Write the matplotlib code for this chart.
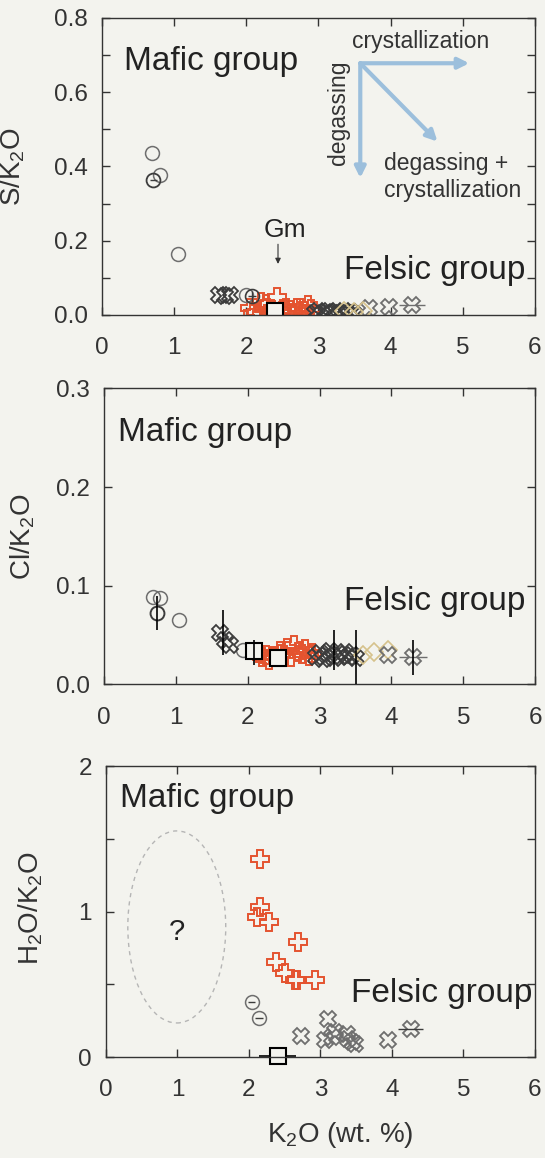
import numpy as np
import matplotlib.pyplot as plt
from matplotlib.patches import Ellipse

plt.rcParams['font.family'] = ['Liberation Sans', 'DejaVu Sans']
plt.rcParams['mathtext.default'] = 'regular'

PAPER = '#f3f3ee'
RED = '#e4532f'
DARK = '#3c3c3c'
GRAY = '#6e6e6e'
TAN = '#d6c28c'
BLUE = '#9cbfdc'

# ---- S/K2O panel ----
s_mafic_x = [0.69, 0.81, 1.05]
s_mafic_y = [0.437, 0.377, 0.164]
s_mafic_eb_x = [0.71]
s_mafic_eb_y = [0.364]
s_xdark_x = [1.62, 1.70, 1.78, 2.95, 3.00, 3.05, 3.10, 3.15, 3.20, 3.25, 3.30, 3.35, 3.40, 3.45, 3.50]
s_xdark_y = [0.055, 0.050, 0.055, 0.005, 0.010, 0.003, 0.008, 0.012, 0.004, 0.009, 0.006, 0.010, 0.005, 0.008, 0.003]
s_xgray_x = [3.70, 3.98, 4.30]
s_xgray_y = [0.018, 0.022, 0.027]
s_circ_x = [2.00]
s_circ_y = [0.055]
s_circp_x = [2.08]
s_circp_y = [0.050]
s_red_x = [2.05, 2.10, 2.15, 2.20, 2.25, 2.28, 2.32, 2.43, 2.50, 2.55, 2.60, 2.65, 2.70, 2.75, 2.80, 2.85, 2.90]
s_red_y = [0.020, 0.005, 0.009, 0.035, 0.015, 0.030, 0.000, 0.049, 0.010, 0.020, 0.013, 0.005, 0.020, 0.019, 0.010, 0.027, 0.015]
s_dia_x = [3.35, 3.50, 3.62]
s_dia_y = [0.010, 0.008, 0.012]
s_gm_x = [2.40]
s_gm_y = [0.012]

# ---- Cl/K2O panel ----
cl_mafic_x = [0.68, 0.78, 1.04]
cl_mafic_y = [0.089, 0.088, 0.065]
cl_mafic_eb_x = [0.73]
cl_mafic_eb_y = [0.072]
cl_xdark_x = [1.62, 1.68, 1.75, 2.95, 3.00, 3.05, 3.10, 3.15, 3.20, 3.25, 3.30, 3.35, 3.40, 3.45, 3.50]
cl_xdark_y = [0.052, 0.045, 0.040, 0.028, 0.032, 0.026, 0.030, 0.034, 0.027, 0.031, 0.029, 0.033, 0.028, 0.030, 0.027]
cl_xgray_x = [3.95, 4.30]
cl_xgray_y = [0.030, 0.028]
cl_circ_x = [1.93]
cl_circ_y = [0.035]
cl_red_x = [2.15, 2.20, 2.25, 2.30, 2.35, 2.45, 2.50, 2.55, 2.60, 2.65, 2.70, 2.75, 2.80, 2.85, 2.90]
cl_red_y = [0.032, 0.028, 0.030, 0.025, 0.029, 0.034, 0.030, 0.037, 0.028, 0.040, 0.033, 0.031, 0.036, 0.029, 0.032]
cl_dia_x = [3.60, 3.75, 3.95]
cl_dia_y = [0.030, 0.033, 0.035]
cl_sq_x = [2.08, 2.42]
cl_sq_y = [0.034, 0.027]
cl_eb_x = [0.73, 1.66, 2.08, 3.20, 3.50, 4.30]
cl_eb_lo = [0.055, 0.030, 0.020, 0.015, 0.000, 0.010]
cl_eb_hi = [0.090, 0.075, 0.045, 0.055, 0.055, 0.045]

# ---- H2O/K2O panel ----
h_red_x = [2.15, 2.15, 2.11, 2.28, 2.68, 2.38, 2.51, 2.65, 2.67, 2.92]
h_red_y = [1.36, 1.03, 0.96, 0.93, 0.79, 0.65, 0.58, 0.53, 0.53, 0.53]
h_circ_x = [2.04, 2.14]
h_circ_y = [0.38, 0.27]
h_x_x = [2.73, 3.11, 3.06, 3.20, 3.16, 3.37, 3.44, 3.48, 3.39, 3.94, 4.26]
h_x_y = [0.145, 0.26, 0.115, 0.17, 0.14, 0.16, 0.10, 0.09, 0.126, 0.115, 0.195]
h_gm_x = [2.40]
h_gm_y = [0.01]


def style_axes(ax, ymax, major, minor, fmt):
    ax.set_facecolor(PAPER)
    ax.set_xlim(0, 6)
    ax.set_ylim(0, ymax)
    ax.set_xticks(np.arange(0, 7, 1))
    ax.set_yticks(np.arange(0, ymax + 1e-9, major))
    ax.set_yticklabels([fmt.format(v) for v in np.arange(0, ymax + 1e-9, major)])
    if minor:
        ax.set_yticks(np.arange(0, ymax + 1e-9, minor), minor=True)
    ax.tick_params(which='both', direction='in', top=True, right=True,
                   length=6, width=1, color='#333333', labelsize=17.5,
                   labelcolor='#333333')
    ax.tick_params(axis='x', pad=16)
    ax.tick_params(axis='y', pad=10)
    for sp in ax.spines.values():
        sp.set_linewidth(1.0)
        sp.set_color('#333333')


def xmark(ax, x, y, ec, ms=12):
    ax.plot(x, y, 'X', ms=ms, mfc='none', mec=ec, mew=1.3, ls='none')


def redplus(ax, x, y, ms=13):
    ax.plot(x, y, 'P', ms=ms, mfc='none', mec=RED, mew=1.4, ls='none')


fig = plt.figure(figsize=(5.45, 11.58), dpi=100, facecolor=PAPER)

# top panel
ax1 = fig.add_axes([0.187, 0.728, 0.7945, 0.2565])
style_axes(ax1, 0.8, 0.2, 0.1, '{:.1f}')
ax1.plot(s_mafic_x, s_mafic_y, 'o', ms=10, mfc='none', mec=GRAY, mew=1.1)
ax1.errorbar(s_mafic_eb_x, s_mafic_eb_y, xerr=0.05, fmt='o', ms=10, mfc='none',
             mec=DARK, ecolor=DARK, elinewidth=1, mew=1.3)
redplus(ax1, s_red_x, s_red_y)
xmark(ax1, s_xdark_x, s_xdark_y, DARK)
xmark(ax1, s_xgray_x, s_xgray_y, GRAY)
ax1.errorbar([s_xgray_x[-1]], [s_xgray_y[-1]], xerr=0.18, fmt='none', ecolor=GRAY, elinewidth=1)
ax1.plot(s_dia_x, s_dia_y, 'D', ms=9, mfc='none', mec=TAN, mew=1.2)
ax1.plot(s_circ_x, s_circ_y, 'o', ms=10, mfc='none', mec=GRAY, mew=1.1)
ax1.errorbar(s_circp_x, s_circp_y, xerr=0.05, yerr=0.015, fmt='o', ms=10, mfc='none',
             mec=DARK, ecolor=DARK, elinewidth=1, mew=1.2)
ax1.errorbar(s_gm_x, s_gm_y, xerr=0.08, yerr=0.015, fmt='s', ms=11, mfc=PAPER,
             mec='black', ecolor='black', elinewidth=1, mew=1.5)
ax1.set_ylabel('S/K$_2$O', fontsize=20, color='#333333')
ax1.yaxis.set_label_coords(-0.173, 0.5)
ax1.text(0.30, 0.683, 'Mafic group', fontsize=24, va='center', ha='left', color='#222222')
ax1.text(5.87, 0.121, 'Felsic group', fontsize=24, va='center', ha='right', color='#222222')
ax1.text(2.54, 0.229, 'Gm', fontsize=19, ha='center', va='center', color='#222222')
ax1.annotate('', xy=(2.44, 0.13), xytext=(2.44, 0.198),
             arrowprops=dict(arrowstyle='-|>', color='#333333', lw=0.8, mutation_scale=8))
arrow_kw = dict(arrowstyle='-|>', color=BLUE, lw=3, mutation_scale=16, shrinkA=0, shrinkB=0)
ax1.annotate('', xy=(5.09, 0.678), xytext=(3.58, 0.678), arrowprops=arrow_kw)
ax1.annotate('', xy=(3.58, 0.369), xytext=(3.58, 0.678), arrowprops=arrow_kw)
ax1.annotate('', xy=(4.65, 0.467), xytext=(3.58, 0.678), arrowprops=arrow_kw)
ax1.text(4.42, 0.737, 'crystallization', fontsize=16.5, ha='center', va='center', color='#333333')
ax1.text(3.28, 0.544, 'degassing', fontsize=16.5, ha='center', va='center',
         rotation=90, color='#333333')
ax1.text(3.91, 0.371, 'degassing +\ncrystallization', fontsize=16.5, ha='left',
         va='center', color='#333333', linespacing=1.2)

# middle panel
ax2 = fig.add_axes([0.191, 0.409, 0.791, 0.2556])
style_axes(ax2, 0.3, 0.1, None, '{:.1f}')
ax2.vlines(cl_eb_x, cl_eb_lo, cl_eb_hi, color='black', lw=1.2, zorder=5)
ax2.plot(cl_mafic_x, cl_mafic_y, 'o', ms=10, mfc='none', mec=GRAY, mew=1.1)
ax2.plot(cl_mafic_eb_x, cl_mafic_eb_y, 'o', ms=10, mfc='none', mec=DARK, mew=1.4)
ax2.plot(cl_circ_x, cl_circ_y, 'o', ms=10, mfc='none', mec=GRAY, mew=1.1)
redplus(ax2, cl_red_x, cl_red_y)
xmark(ax2, cl_xdark_x, cl_xdark_y, DARK)
ax2.plot(cl_dia_x, cl_dia_y, 'D', ms=9, mfc='none', mec=TAN, mew=1.2)
xmark(ax2, cl_xgray_x, cl_xgray_y, GRAY)
ax2.errorbar([cl_xgray_x[-1]], [cl_xgray_y[-1]], xerr=0.2, fmt='none', ecolor=GRAY, elinewidth=1)
ax2.errorbar(cl_sq_x, cl_sq_y, xerr=0.08, yerr=0.006, fmt='s', ms=11, mfc=PAPER,
             mec='black', ecolor='black', elinewidth=1, mew=1.5)
ax2.set_ylabel('Cl/K$_2$O', fontsize=20, color='#333333')
ax2.yaxis.set_label_coords(-0.155, 0.5)
ax2.text(0.19, 0.255, 'Mafic group', fontsize=24, va='center', ha='left', color='#222222')
ax2.text(5.87, 0.084, 'Felsic group', fontsize=24, va='center', ha='right', color='#222222')

# bottom panel
ax3 = fig.add_axes([0.1945, 0.0872, 0.787, 0.2513])
style_axes(ax3, 2.0, 1.0, 0.5, '{:.0f}')
ax3.add_patch(Ellipse((0.99, 0.894), 1.37, 1.32, fill=False, ls=(0, (3, 3)),
                      ec='#b5b5b5', lw=1))
ax3.text(0.99, 0.86, '?', fontsize=21, ha='center', va='center', color='#222222')
redplus(ax3, h_red_x, h_red_y)
ax3.errorbar(h_circ_x, h_circ_y, xerr=0.05, fmt='o', ms=10, mfc='none', mec=GRAY,
             ecolor=DARK, elinewidth=1, mew=1.1)
xmark(ax3, h_x_x, h_x_y, GRAY)
ax3.errorbar([h_x_x[-1]], [h_x_y[-1]], xerr=0.17, fmt='none', ecolor=DARK, elinewidth=1)
ax3.errorbar(h_gm_x, h_gm_y, xerr=0.26, fmt='s', ms=11, mfc=PAPER, mec='black',
             ecolor='black', elinewidth=1.2, mew=1.5, clip_on=False)
ax3.set_ylabel('H$_2$O/K$_2$O', fontsize=20, color='#333333')
ax3.yaxis.set_label_coords(-0.142, 0.51)
ax3.set_xlabel('K$_2$O (wt. %)', fontsize=20, color='#333333')
ax3.xaxis.set_label_coords(0.545, -0.215)
ax3.text(0.20, 1.78, 'Mafic group', fontsize=24, va='center', ha='left', color='#222222')
ax3.text(5.96, 0.436, 'Felsic group', fontsize=24, va='center', ha='right', color='#222222')

fig.savefig('out.png', dpi=100, facecolor=PAPER)
